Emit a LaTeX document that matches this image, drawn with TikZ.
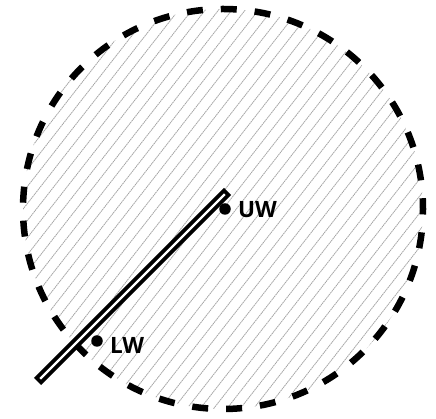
\documentclass[tikz,border=0pt]{standalone}
\usepackage{fontspec}
\setmainfont{Open Sans}
\begin{document}
\begin{tikzpicture}[x=1pt,y=1pt,
  hatchline/.style={gray!70, line width=0.8pt, dash pattern=on 1.6pt off 0.6pt},
  rim/.style={line width=6.5pt, dash pattern=on 16pt off 17.96pt, dash phase=5.2pt},
  dotmark/.style={circle, fill=black, inner sep=0pt, minimum size=11.5pt},
  lbl/.style={font=\fontsize{22.5}{22.5}\selectfont\bfseries, inner sep=0pt}]
\useasboundingbox (0,0) rectangle (436,419);
\coordinate (c) at (223,210);
\begin{scope}
  \clip (c) circle (200);
  \foreach \i in {-24,...,24} {
    \draw[hatchline, shift={(c)}, rotate=52] (-260,\i*10.5) -- (260,\i*10.5);
  }
\end{scope}
\draw[rim] (c) circle (200);
% bar
\coordinate (a) at (37.5,37.5);
\coordinate (b) at (227.5,227.5);
\draw[line width=10pt] (a) -- (b);
\draw[white, line width=2.4pt, shorten <=3.8pt, shorten >=3.8pt] (a) -- (b);
% markers
\node[dotmark] (uw) at (225,210) {};
\node[lbl, anchor=west] (uwl) at (238,209) {UW};
\node[dotmark] (lw) at (97,78) {};
\node[lbl, anchor=west] (lwl) at (110,74) {LW};
\end{tikzpicture}
\end{document}
